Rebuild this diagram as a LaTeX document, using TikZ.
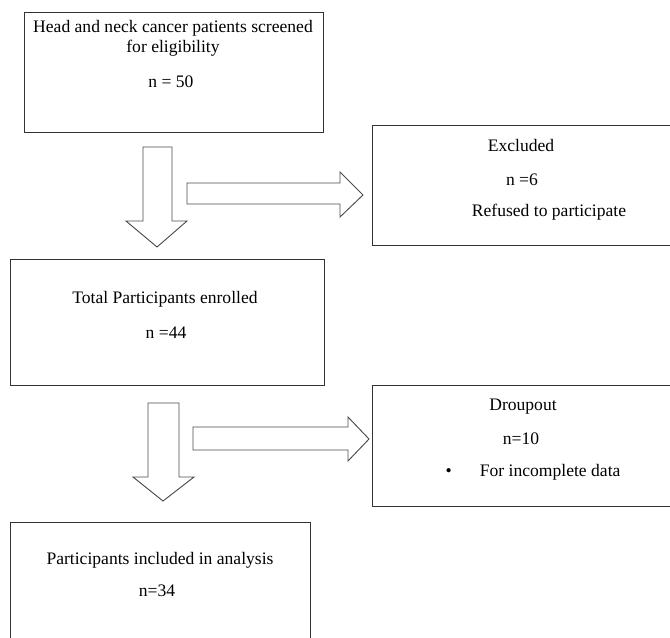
\documentclass[tikz,border=0pt]{standalone}
\usepackage{fontspec}
\setmainfont{Liberation Serif}
\usetikzlibrary{fit}
\begin{document}
\begin{tikzpicture}[x=0.03cm, y=-0.03cm, every node/.style={align=center, inner sep=0pt, font=\fontsize{15}{17}\selectfont}, box/.style={shape=rectangle, draw=black!80, line width=0.8pt}, blockarrow/.style={draw=black!70, line width=0.8pt, fill=white, line join=miter}]
            \useasboundingbox (0,0) rectangle (670,637);
            \clip (0,0) rectangle (670,637);
            % Boxes
            \node[box, fit={(24,12) (323,132)}] (screened) {};
            \node[box, fit={(372,125) (700,245)}] (excluded) {};
            \node[box, fit={(10,259) (324,385)}] (enrolled) {};
            \node[box, fit={(372,385) (700,506)}] (dropout) {};
            \node[box, fit={(10,522) (310,680)}] (analysed) {};
            % Texts
            \node (screenedtext) at (173,38) {Head and neck cancer patients screened\\for eligibility};
            \node (screenedn) at (171,82) {n = 50};
            \node (excludedtext) at (521,145) {Excluded};
            \node (excludedn) at (522,180) {n =6};
            \node (excludedwhy) at (549,212) {Refused to participate};
            \node (enrolledtext) at (165,299) {Total Participants enrolled};
            \node (enrolledn) at (166,333) {n =44};
            \node (dropouttext) at (523,407) {Droupout};
            \node (dropoutn) at (521,439) {n=10};
            \node (dropoutwhy) at (533,472) {\textbullet\hspace{24pt}For incomplete data};
            \node (analysedtext) at (160,560) {Participants included in analysis};
            \node (analysedn) at (157,591) {n=34};
            % Arrows
            \draw[blockarrow] (143,147) -- (172,147) -- (172,221) -- (187,221) -- (157,247) -- (126,221) -- (143,221) -- cycle;
            \draw[blockarrow] (187,183) -- (340,183) -- (340,172) -- (363,195) -- (340,217) -- (340,204) -- (187,204) -- cycle;
            \draw[blockarrow] (148,403) -- (179,403) -- (179,477) -- (194,477) -- (163,501) -- (133,477) -- (148,477) -- cycle;
            \draw[blockarrow] (193,427) -- (348,427) -- (348,417) -- (369,439) -- (348,461) -- (348,450) -- (193,450) -- cycle;
        \end{tikzpicture}
\end{document}
